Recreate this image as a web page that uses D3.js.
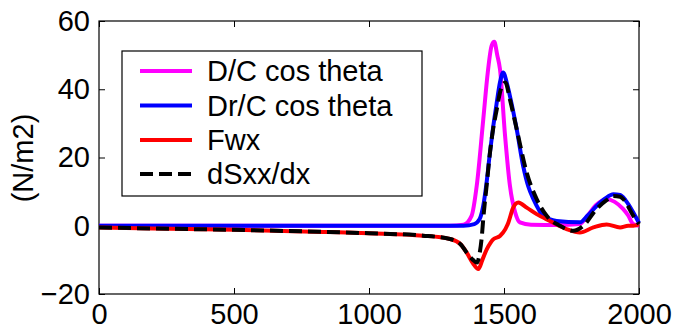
<!DOCTYPE html>
<html><head><meta charset="utf-8">
<script src="https://cdn.jsdelivr.net/npm/d3@7"></script>
<style>
html,body{margin:0;padding:0;background:#fff;}
svg{display:block;}
text{font-family:"Liberation Sans",Arial,sans-serif;}
</style></head>
<body>
<svg id="c" width="673" height="335"></svg>
<script>
const seriesNames = ["D/C cos theta", "Dr/C cos theta", "Fwx", "dSxx/dx"];
const seriesColors = ["#ff00ff", "#0000ff", "#ff0000", "#000000"];
const xTicks = [0, 500, 1000, 1500, 2000];
const yTicks = [-20, 0, 20, 40, 60];
const yLabel = "(N/m2)";

const dcCos = [[0,0],[1300,0],[1350,0.3],[1380,2.9],[1399,11.7],[1423,31],[1440,45],[1454,52.7],[1464,53.9],[1475,50],[1485,45.9],[1504,26.3],[1522,11.7],[1541,4],[1559,1],[1600,0.3],[1700,0.2],[1781,0.5],[1810,3],[1840,6],[1881,7.8],[1910,7],[1940,5],[1960,3],[1978,0.5],[2000,0]];
const drCos = [[0,0],[1350,0],[1390,0.5],[1410,2],[1423,5.8],[1436,13],[1448,21.5],[1460,29],[1473,36],[1485,42],[1497,44.9],[1510,42],[1522,38],[1547,28.3],[1571,17.5],[1590,11.5],[1609,7.8],[1646,2.9],[1695,1.4],[1781,1],[1810,3],[1843,5.8],[1875,8],[1905,9.2],[1930,9],[1950,7.5],[1979,3.9],[2000,0.8]];
const fwx = [[0,-0.5],[200,-0.8],[500,-1.2],[830,-1.8],[1000,-2.2],[1200,-2.9],[1300,-3.9],[1340,-5.5],[1362,-7.9],[1385,-11],[1405,-12.7],[1420,-10],[1436,-6.9],[1450,-5],[1460,-4],[1485,-3],[1505,-1],[1516,0.9],[1534,5.3],[1553,6.8],[1584,5.3],[1621,3.4],[1670,1.4],[1732,-1],[1781,-2],[1831,-0.5],[1880,0.4],[1930,-0.5],[1960,0],[1979,0],[2000,0.4]];
const dSxx = [[0,-0.5],[200,-0.8],[500,-1.2],[830,-1.8],[1000,-2.2],[1200,-2.9],[1300,-3.9],[1340,-5.5],[1362,-7.9],[1385,-10],[1400,-10.8],[1410,-8],[1418,-3],[1423,1.9],[1436,12],[1448,21.4],[1460,28.5],[1473,34],[1485,39],[1497,41.5],[1505,42],[1522,37],[1547,28.3],[1584,15.6],[1621,7.8],[1658,2.9],[1707,0],[1757,-1.5],[1794,0],[1843,4.9],[1880,7.5],[1905,8.7],[1930,8.5],[1942,7.8],[1979,2.9],[2000,0.5]];

const seriesData = [dcCos, drCos, fwx, dSxx];

const L = 99, R = 639, T = 21, B = 294;
const x = d3.scaleLinear().domain([0, 2000]).range([L, R]);
const y = d3.scaleLinear().domain([-20, 60]).range([B, T]);
const svg = d3.select("#c");
const FS = 29;

// axes
const gx = svg.append("g").attr("transform", `translate(0,${B})`)
  .call(d3.axisBottom(x).tickValues(xTicks).tickSizeInner(-6).tickSizeOuter(0).tickPadding(9).tickFormat(d3.format("d")));
const gxt = svg.append("g").attr("transform", `translate(0,${T})`)
  .call(d3.axisTop(x).tickValues(xTicks).tickSizeInner(-6).tickSizeOuter(0).tickFormat(""));
const gy = svg.append("g").attr("transform", `translate(${L},0)`)
  .call(d3.axisLeft(y).tickValues(yTicks).tickSizeInner(-6).tickSizeOuter(0).tickPadding(9).tickFormat(d3.format("d")));
const gyr = svg.append("g").attr("transform", `translate(${R},0)`)
  .call(d3.axisRight(y).tickValues(yTicks).tickSizeInner(-6).tickSizeOuter(0).tickFormat(""));
[gx, gxt, gy, gyr].forEach(g => {
  g.select(".domain").remove();
  g.selectAll("line").attr("stroke", "#000").attr("stroke-width", 1);
  g.selectAll("text").attr("font-size", FS).attr("fill", "#000").attr("font-family", '"Liberation Sans",Arial,sans-serif');
});

svg.append("rect").attr("x", L).attr("y", T).attr("width", R - L).attr("height", B - T)
  .attr("fill", "none").attr("stroke", "#000").attr("stroke-width", 1.2);

svg.append("text").attr("transform", `translate(33,158) rotate(-90)`)
  .attr("text-anchor", "middle").attr("font-size", FS).text(yLabel);

// lines
const line = d3.line().x(d => x(d[0])).y(d => y(d[1])).curve(d3.curveMonotoneX);
const plot = svg.append("g");
seriesData.forEach((data, i) => {
  plot.append("path").attr("d", line(data)).attr("fill", "none")
    .attr("stroke", seriesColors[i]).attr("stroke-width", 4)
    .attr("stroke-linejoin", "round")
    .attr("stroke-dasharray", i === 3 ? "13,6" : null);
});

// legend
const lg = svg.append("g");
lg.append("rect").attr("x", 122).attr("y", 51).attr("width", 300).attr("height", 145)
  .attr("fill", "#fff").attr("stroke", "#000").attr("stroke-width", 1.2);
const rowY = [71, 105.5, 140, 174];
seriesNames.forEach((n, i) => {
  lg.append("line").attr("x1", 140).attr("x2", 192).attr("y1", rowY[i]).attr("y2", rowY[i])
    .attr("stroke", seriesColors[i]).attr("stroke-width", 4)
    .attr("stroke-dasharray", i === 3 ? "13,6" : null);
  lg.append("text").attr("x", 207).attr("y", rowY[i]).attr("dy", "0.35em")
    .attr("font-size", FS).text(n);
});
</script>
</body></html>
